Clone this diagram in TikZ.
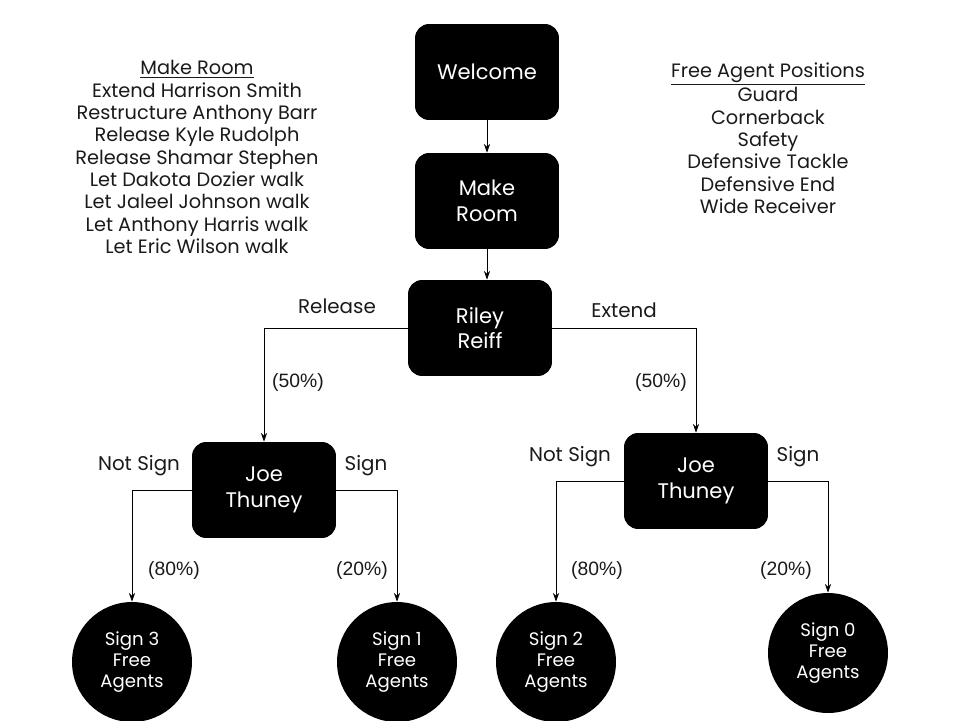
\documentclass[tikz,border=0pt]{standalone}
\usepackage{fontspec}
\setmainfont{Poppins}
\newfontfamily\pctfont{Liberation Sans}
\usetikzlibrary{arrows.meta,positioning}
\definecolor{trInk}{HTML}{1A1A1A}
\tikzset{
  % Black decision box
  dbox/.style={rectangle,rounded corners=8pt,
    minimum width=2.88cm,minimum height=1.92cm,
    align=center,fill=black,text=white,
    font=\fontsize{12}{14.6}\selectfont},
  % Black outcome circle
  obox/.style={circle,minimum size=2.4cm,inner sep=0pt,
    align=center,fill=black,text=white,
    font=\fontsize{10.3}{11.8}\selectfont},
  % Side text lists
  lst/.style={align=center,text=trInk,
    font=\fontsize{11}{12.7}\selectfont},
  % Arrows
  arr/.style={-{Stealth[length=5pt,width=3.5pt]},thin,color=black},
  lbl/.style={font=\fontsize{11.3}{12}\selectfont,text=trInk},
  pct/.style={font=\pctfont\fontsize{11}{12}\selectfont,text=trInk},
}
\begin{document}
\begin{tikzpicture}[x=0.02cm,y=-0.02cm]
  \useasboundingbox (0,0) rectangle (960,720);

  \node[dbox] (welcome) at (487,72) {Welcome};
  \node[dbox] (room) at (487,201) {Make\\Room};
  \node[dbox] (riley) at (480,328) {Riley\\Reiff};
  \node[dbox] (joeL) at (264,490) {Joe\\Thuney};
  \node[dbox] (joeR) at (696,481) {Joe\\Thuney};

  \node[obox] (three) at (132,662) {Sign 3\\Free\\Agents};
  \node[obox] (one) at (397,662) {Sign 1\\Free\\Agents};
  \node[obox] (two) at (556,662) {Sign 2\\Free\\Agents};
  \node[obox] (zero) at (828,653) {Sign 0\\Free\\Agents};

  % Side lists
  \node[lst] (cuts) at (197,157)
    {\underline{Make Room}\\Extend Harrison Smith\\Restructure Anthony Barr\\
     Release Kyle Rudolph\\Release Shamar Stephen\\Let Dakota Dozier walk\\
     Let Jaleel Johnson walk\\Let Anthony Harris walk\\Let Eric Wilson walk};
  \node[lst] (needs) at (768,138)
    {\underline{Free Agent Positions}\\Guard\\Cornerback\\Safety\\
     Defensive Tackle\\Defensive End\\Wide Receiver};

  \draw[arr] (welcome) -- (room);
  \draw[arr] (room.south) -- (room.south |- riley.north);
  \draw[arr] (riley.west) -| (joeL.north);
  \draw[arr] (riley.east) -| (joeR.north);
  \draw[arr] (joeL.west) -| (three.north);
  \draw[arr] (joeL.east) -| (one.north);
  \draw[arr] (joeR.west) -| (two.north);
  \draw[arr] (joeR.east) -| (zero.north);

  % Branch labels
  \node[lbl] (rel) at (337,306) {Release};
  \node[lbl] (ext) at (624,310) {Extend};
  \node[lbl] (nsL) at (139,466) {Not Sign};
  \node[lbl] (sL) at (366,466) {Sign};
  \node[lbl] (nsR) at (570,457) {Not Sign};
  \node[lbl] (sR) at (798,457) {Sign};
  \node[pct] (pRel) at (298,382) {(50\%)};
  \node[pct] (pExt) at (661,382) {(50\%)};
  \node[pct] (pnsL) at (174,570) {(80\%)};
  \node[pct] (psL) at (362,570) {(20\%)};
  \node[pct] (pnsR) at (597,570) {(80\%)};
  \node[pct] (psR) at (786,570) {(20\%)};
\end{tikzpicture}
\end{document}
